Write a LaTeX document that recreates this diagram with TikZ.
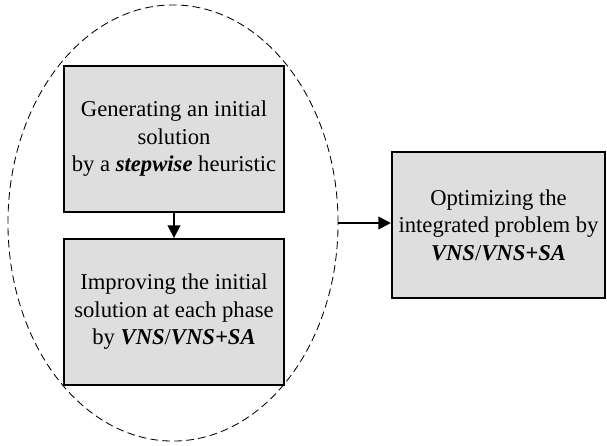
\documentclass[tikz,border=0pt]{standalone}
\usepackage{fontspec}
\setmainfont{Liberation Serif}
\usetikzlibrary{arrows.meta,shapes.geometric}

\tikzset{
    phasebox/.style={draw, line width=1.3pt, fill=black!13, align=center,
        minimum height=3.65cm, inner sep=2pt,
        font=\fontsize{16.1}{19.6}\selectfont},
    flowarrow/.style={line width=1.2pt, -{Triangle[length=9pt,width=9pt]}},
}
\newcommand{\bi}[1]{\textbf{\textit{#1}}}

\begin{document}
\begin{tikzpicture}[x=0.025cm, y=-0.025cm]
        \useasboundingbox (0,0) rectangle (607,446);
        \node[draw, dashed, dash pattern=on 5.5pt off 3pt, line width=0.6pt, ellipse,
            minimum width=8.25cm, minimum height=10.9cm] (ell) at (173,223) {};
        \node[phasebox, minimum width=5.5cm] (gen) at (174,139)
            {Generating an initial\\solution\\by a \bi{stepwise} heuristic};
        \node[phasebox, minimum width=5.5cm] (imp) at (174,312)
            {Improving the initial\\solution at each phase\\by \bi{VNS}/\bi{VNS+SA}};
        \node[phasebox, minimum width=5.33cm] (opt) at (498.5,225)
            {Optimizing the\\integrated problem by\\\bi{VNS}/\bi{VNS+SA}};
        \draw[flowarrow] (gen) -- (imp);
        \draw[flowarrow] (ell.east) -- (ell.east -| opt.west);
    \end{tikzpicture}
\end{document}
